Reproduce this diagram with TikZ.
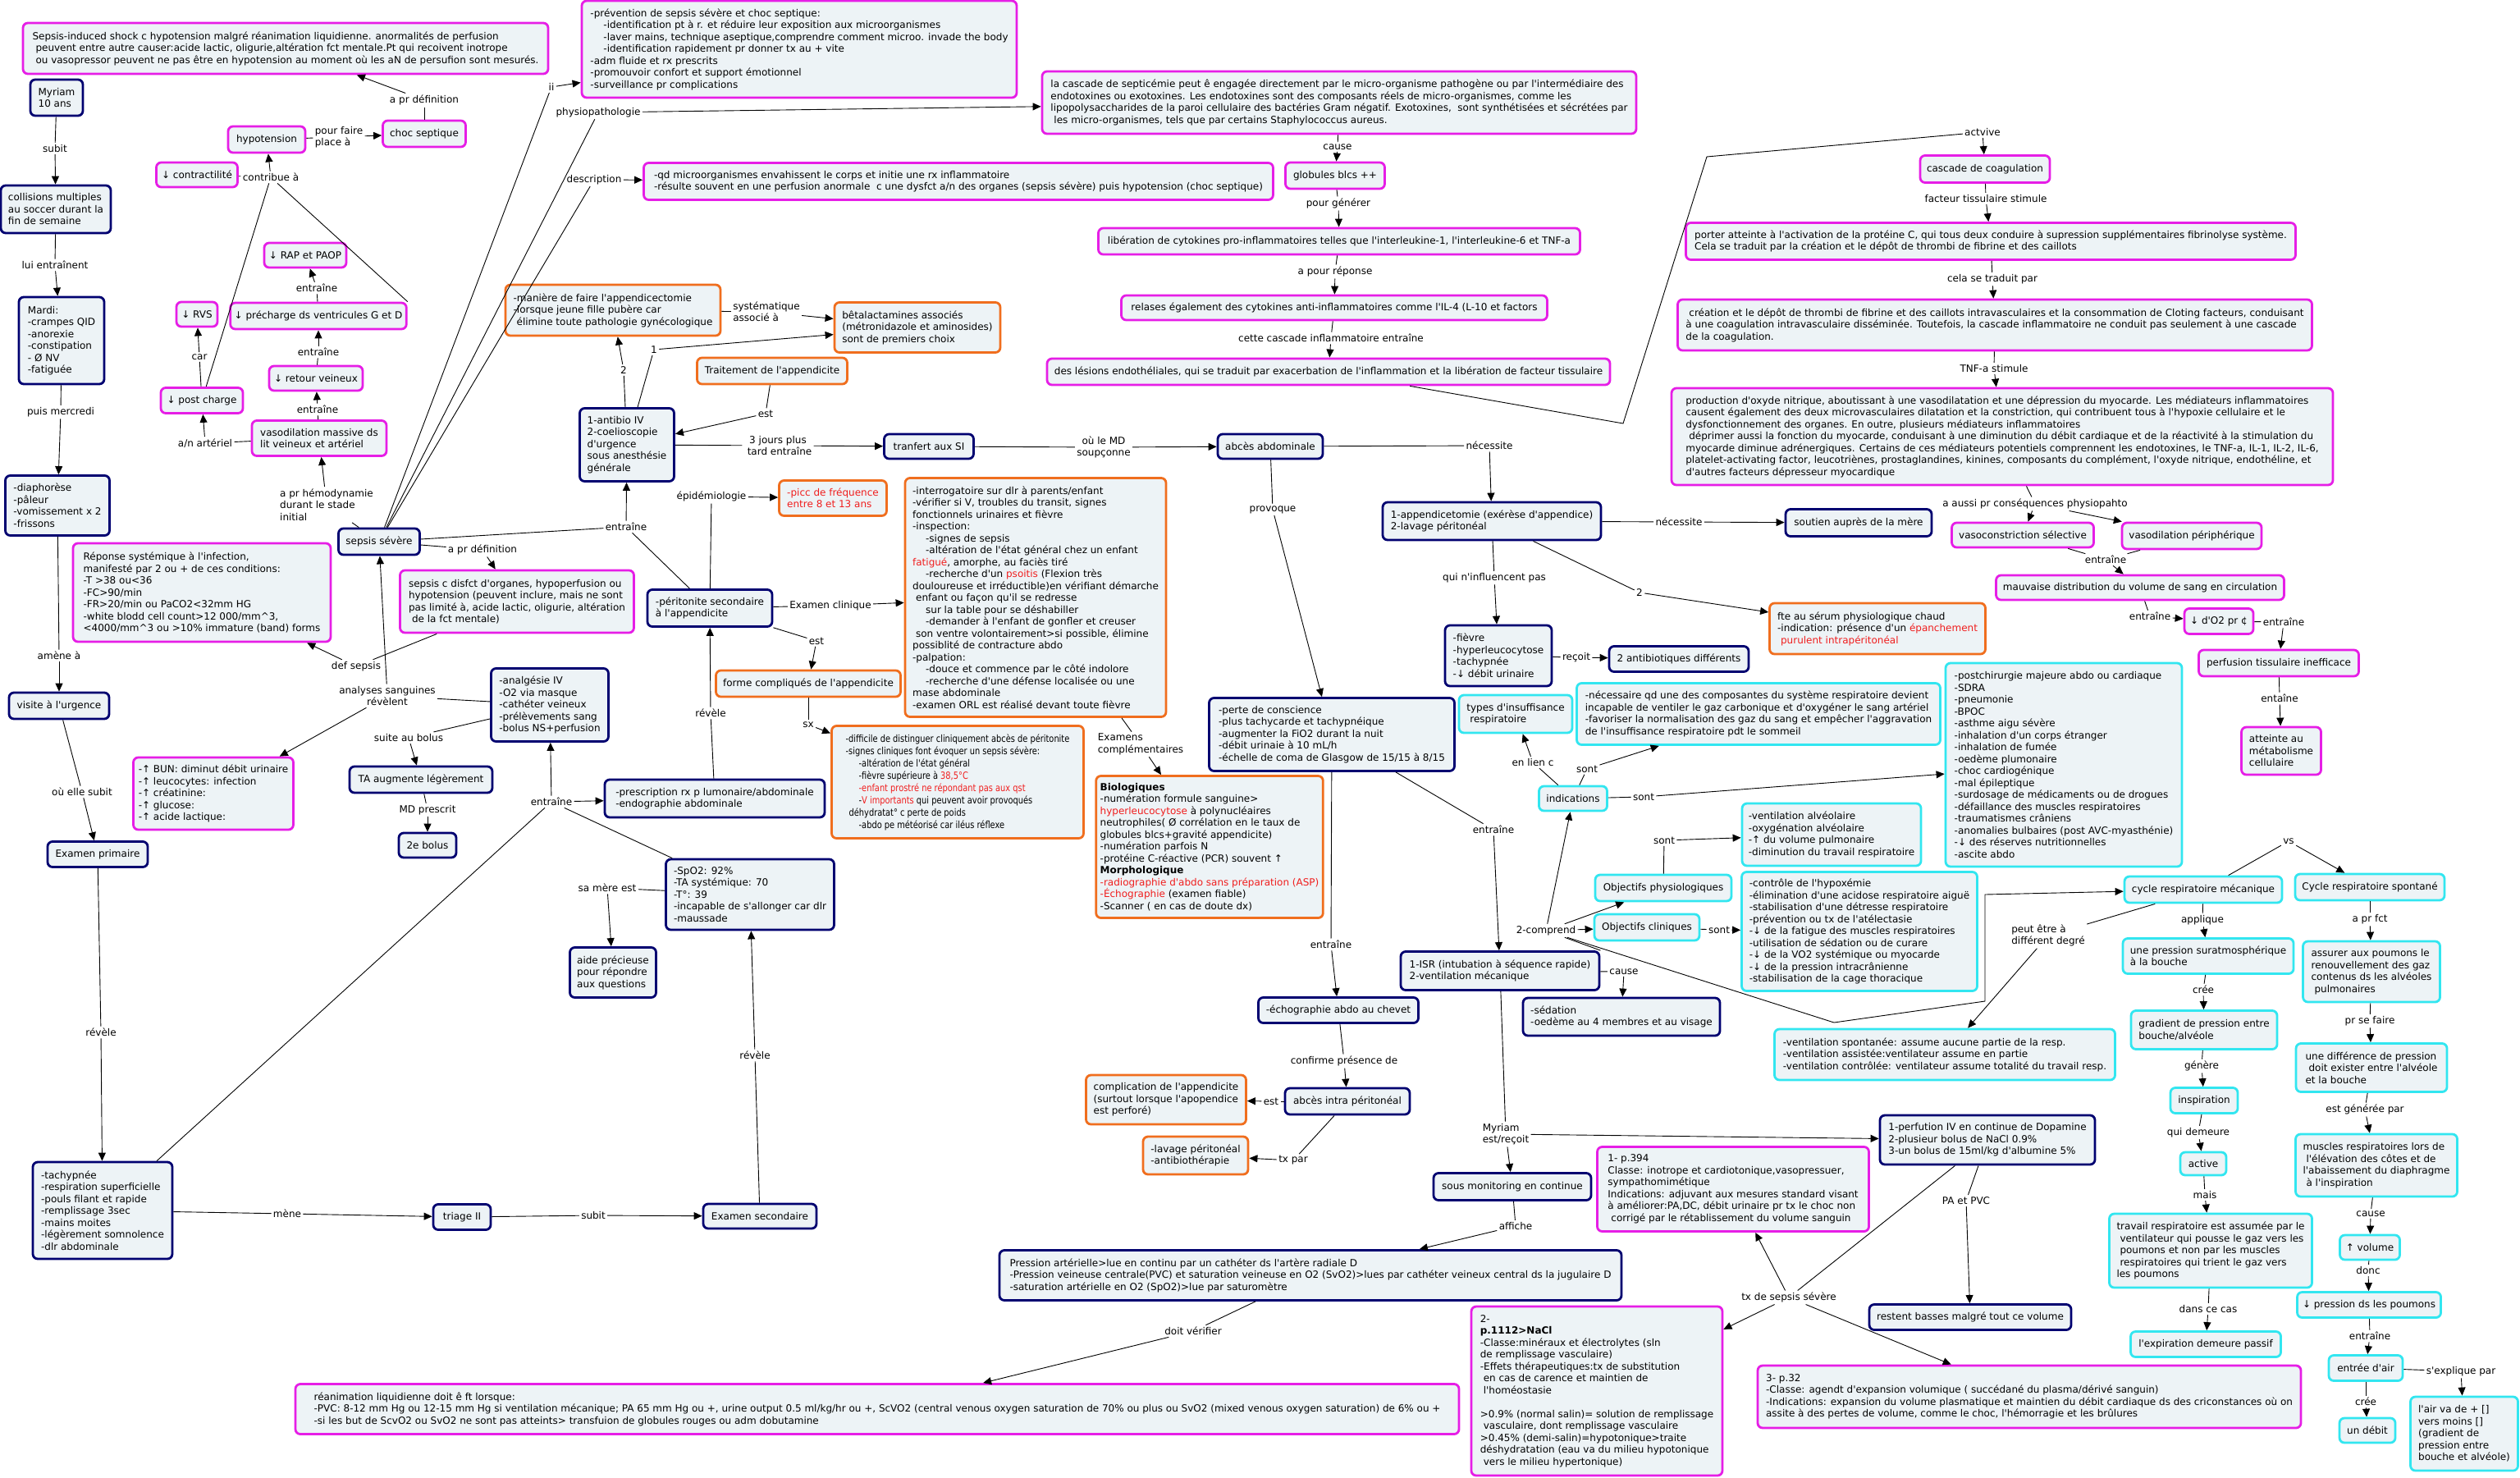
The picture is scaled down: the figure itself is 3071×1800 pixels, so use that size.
\documentclass[tikz,border=0pt]{standalone}
\usepackage{fontspec}
\setmainfont{DejaVu Sans}[Ligatures=TeXOff]
\newfontfamily\narrowfont{DejaVu Sans}[FakeStretch=0.82, Ligatures=TeXOff]
\usetikzlibrary{arrows.meta}
\definecolor{boxfill}{HTML}{EDF3F6}
\definecolor{magline}{HTML}{E61EE6}
\definecolor{navyline}{HTML}{000070}
\definecolor{orgline}{HTML}{F06E1E}
\definecolor{cyanline}{HTML}{32E6F0}
\definecolor{redtxt}{HTML}{F01E1E}
\newcommand{\indt}{\hspace*{16pt}}
\newcommand{\sps}{\hspace*{4pt}}
\newcommand{\rd}[1]{{\color{redtxt}#1}}

\begin{document}
\begin{tikzpicture}[
  x=1pt, y=-1pt, line width=0.9pt,
  font=\fontsize{12pt}{14.5pt}\selectfont,
  arr/.style={-{Triangle[length=10pt,width=9pt]}},
  box/.style={draw, rounded corners=6pt, line width=2.8pt, fill=boxfill, inner sep=5pt, align=left},
  mag/.style={box, draw=magline},
  nav/.style={box, draw=navyline},
  org/.style={box, draw=orgline},
  cyn/.style={box, draw=cyanline},
  wh/.style 2 args={minimum width=#1pt, minimum height=#2pt},
  lbl/.style={inner sep=2pt, align=center}
]
  \fill[white] (0,0) rectangle (3071,1800);
  \useasboundingbox (0,0) rectangle (3071,1800);

  % patient story, left column
  \node[nav, wh={64}{44}] (myriam) at (69,119) {Myriam\\10 ans};
  \node[nav, wh={134}{58}] (collis) at (68,255) {collisions multiples\\au soccer durant la\\fin de semaine};
  \node[nav, wh={104}{106}] (mardi) at (75,415) {Mardi:\\-crampes QID\\-anorexie\\-constipation\\- Ø NV\\-fatiguée};
  \node[nav, wh={127}{73}] (diaph) at (70,616) {-diaphorèse\\-pâleur\\-vomissement x 2\\-frissons};
  \node[nav, wh={122}{32}] (visite) at (72,860) {visite à l'urgence};
  \node[nav, wh={122}{31}] (examprim) at (119,1041) {Examen primaire};
  \node[nav, wh={170}{118}] (tachy) at (125,1475) {-tachypnée\\-respiration superficielle\\-pouls filant et rapide\\-remplissage 3sec\\-mains moites\\-légèrement somnolence\\-dlr abdominale};
  \node[nav, wh={70}{31}] (triage) at (563,1483) {triage II};
  \node[nav, wh={138}{30}] (examsec) at (926,1482) {Examen secondaire};
  \node[nav, wh={205}{86}] (spo2) at (914,1090) {-SpO2: 92\%\\-TA systémique: 70\\-T°: 39\\-incapable de s'allonger car dlr\\-maussade};
  \node[nav, wh={105}{61}] (aide) at (747,1185) {aide précieuse\\pour répondre\\aux questions};
  \node[nav, wh={143}{89}] (analg) at (670,859) {-analgésie IV\\-O2 via masque\\-cathéter veineux\\-prélèvements sang\\-bolus NS+perfusion};
  \node[nav, wh={268}{46}] (prescr) at (871,973) {-prescription rx p lumonaire/abdominale\\-endographie abdominale};
  \node[nav, wh={174}{32}] (ta) at (513,950) {TA augmente légèrement};
  \node[nav, wh={70}{30}] (bolus) at (521,1030) {2e bolus};
  \node[mag, wh={195}{88}] (bun) at (260,967) {-↑ BUN: diminut débit urinaire\\-↑ leucocytes: infection\\-↑ créatinine:\\-↑ glucose:\\-↑ acide lactique:};
  \node[mag, wh={314}{120}] (reponse) at (246,722) {Réponse systémique à l'infection,\\manifesté par 2 ou + de ces conditions:\\-T >38 ou<36\\-FC>90/min\\-FR>20/min ou PaCO2<32mm HG\\-white blodd cell count>12 000/mm\textasciicircum 3,\\<4000/mm\textasciicircum 3 ou >10\% immature (band) forms};
  \node[mag, wh={285}{76}] (sepsisc) at (630,733) {sepsis c disfct d'organes, hypoperfusion ou\\hypotension (peuvent inclure, mais ne sont\\pas limité à, acide lactic, oligurie, altération\\\sps de la fct mentale)};
  \node[nav, wh={99}{32}] (sevr) at (462,660) {sepsis sévère};

  % hemodynamics
  \node[mag, wh={640}{62}] (shock) at (348,59) {Sepsis-induced shock c hypotension malgré réanimation liquidienne. anormalités de perfusion\\\sps peuvent entre autre causer:acide lactic, oligurie,altération fct mentale.Pt qui recoivent inotrope\\\sps ou vasopressor peuvent ne pas être en hypotension au moment où les aN de persufion sont mesurés.};
  \node[mag, wh={94}{32}] (hypo) at (325,170) {hypotension};
  \node[mag, wh={101}{32}] (choc) at (517,163) {choc septique};
  \node[mag, wh={99}{30}] (contract) at (240,213) {↓ contractilité};
  \node[mag, wh={100}{30}] (rap) at (372,311) {↓ RAP et PAOP};
  \node[mag, wh={50}{30}] (rvs) at (240,383) {↓ RVS};
  \node[mag, wh={214}{32}] (prech) at (388,385) {↓ précharge ds ventricules G et D};
  \node[mag, wh={114}{30}] (retour) at (385,461) {↓ retour veineux};
  \node[mag, wh={100}{31}] (postch) at (246,488) {↓ post charge};
  \node[mag, wh={164}{43}] (vasod) at (389,534) {vasodilation massive ds\\lit veineux et artériel};

  % physiopathology
  \node[mag, wh={530}{118}] (prev) at (974,60) {-prévention de sepsis sévère et choc septique:\\\indt-identification pt à r. et réduire leur exposition aux microorganismes\\\indt-laver mains, technique aseptique,comprendre comment microo. invade the body\\\indt-identification rapidement pr donner tx au + vite\\-adm fluide et rx prescrits\\-promouvoir confort et support émotionnel\\-surveillance pr complications};
  \node[mag, wh={724}{76}] (septi) at (1632,125) {la cascade de septicémie peut ê engagée directement par le micro-organisme pathogène ou par l'intermédiaire des\\endotoxines ou exotoxines. Les endotoxines sont des composants réels de micro-organismes, comme les\\lipopolysaccharides de la paroi cellulaire des bactéries Gram négatif. Exotoxines, \ sont synthétisées et sécrétées par\\\sps les micro-organismes, tels que par certains Staphylococcus aureus.};
  \node[mag, wh={767}{45}] (qdmicro) at (1168,221) {-qd microorganismes envahissent le corps et initie une rx inflammatoire\\-résulte souvent en une perfusion anormale \ c une dysfct a/n des organes (sepsis sévère) puis hypotension (choc septique)};
  \node[mag, wh={121}{32}] (globb) at (1627,214) {globules blcs ++};
  \node[mag, wh={587}{32}] (cyto) at (1632,294) {libération de cytokines pro-inflammatoires telles que l'interleukine-1, l'interleukine-6 et TNF-a};
  \node[mag, wh={519}{30}] (relases) at (1626,375) {relases également des cytokines anti-inflammatoires comme l'IL-4 (L-10 et factors};
  \node[mag, wh={686}{32}] (lesions) at (1619,453) {des lésions endothéliales, qui se traduit par exacerbation de l'inflammation et la libération de facteur tissulaire};
  \node[mag, wh={158}{33}] (coag) at (2419,206) {cascade de coagulation};
  \node[mag, wh={743}{45}] (porter) at (2426,294) {porter atteinte à l'activation de la protéine C, qui tous deux conduire à supression supplémentaires fibrinolyse système.\\Cela se traduit par la création et le dépôt de thrombi de fibrine et des caillots};
  \node[mag, wh={773}{62}] (creation) at (2431,396) {\sps création et le dépôt de thrombi de fibrine et des caillots intravasculaires et la consommation de Cloting facteurs, conduisant\\à une coagulation intravasculaire disséminée. Toutefois, la cascade inflammatoire ne conduit pas seulement à une cascade\\de la coagulation.};
  \node[mag, wh={806}{118}] (prod) at (2440,532) {production d'oxyde nitrique, aboutissant à une vasodilatation et une dépression du myocarde. Les médiateurs inflammatoires\\causent également des deux microvasculaires dilatation et la constriction, qui contribuent tous à l'hypoxie cellulaire et le\\dysfonctionnement des organes. En outre, plusieurs médiateurs inflammatoires\\\sps déprimer aussi la fonction du myocarde, conduisant à une diminution du débit cardiaque et de la réactivité à la stimulation du\\myocarde diminue adrénergiques. Certains de ces médiateurs potentiels comprennent les endotoxines, le TNF-a, IL-1, IL-2, IL-6,\\platelet-activating factor, leucotriènes, prostaglandines, kinines, composants du complément, l'oxyde nitrique, endothéline, et\\d'autres facteurs dépresseur myocardique};
  \node[mag, wh={173}{30}] (vasoc) at (2465,652) {vasoconstriction sélective};
  \node[mag, wh={170}{32}] (vasodp) at (2671,653) {vasodilation périphérique};
  \node[mag, wh={351}{30}] (mauv) at (2608,716) {mauvaise distribution du volume de sang en circulation};
  \node[mag, wh={84}{31}] (dO2) at (2704,757) {↓ d'O2 pr ¢};
  \node[mag, wh={195}{32}] (perftis) at (2777,808) {perfusion tissulaire inefficace};
  \node[mag, wh={97}{58}] (atteinte) at (2780,915) {atteinte au\\métabolisme\\cellulaire};

  % appendicitis
  \node[org, wh={262}{62}] (maniere) at (747,378) {-manière de faire l'appendicectomie\\-lorsque jeune fille pubère car\\\sps élimine toute pathologie gynécologique};
  \node[org, wh={202}{61}] (beta) at (1118,399) {bêtalactamines associés\\(métronidazole et aminosides)\\sont de premiers choix};
  \node[org, wh={183}{32}] (trait) at (941,452) {Traitement de l'appendicite};
  \node[nav, wh={115}{89}] (antib) at (764,542) {1-antibio IV\\2-coelioscopie\\d'urgence\\sous anesthésie\\générale};
  \node[nav, wh={109}{30}] (transf) at (1132,544) {tranfert aux SI};
  \node[nav, wh={128}{30}] (abces) at (1548,544) {abcès abdominale};
  \node[nav, wh={266}{46}] (append) at (1818,635) {1-appendicetomie (exérèse d'appendice)\\2-lavage péritonéal};
  \node[nav, wh={178}{33}] (soutien) at (2265,637) {soutien auprès de la mère};
  \node[nav, wh={130}{74}] (fievre) at (1826,799) {-fièvre\\-hyperleucocytose\\-tachypnée\\-↓ débit urinaire};
  \node[nav, wh={170}{31}] (antib2) at (2046,803) {2 antibiotiques différents};
  \node[org, wh={263}{62}] (fte) at (2288,766) {fte au sérum physiologique chaud\\-indication: présence d'un \rd{épanchement}\\\sps\rd{purulent intrapéritonéal}};
  \node[org, wh={131}{43}, text=redtxt] (picc) at (1015,607) {-picc de fréquence\\entre 8 et 13 ans};
  \node[nav, wh={152}{45}] (perit) at (865,741) {-péritonite secondaire\\à l'appendicite};
  \node[org, wh={318}{291}] (interro) at (1262,728) {-interrogatoire sur dlr à parents/enfant\\-vérifier si V, troubles du transit, signes\\fonctionnels urinaires et fièvre\\-inspection:\\\indt-signes de sepsis\\\indt-altération de l'état général chez un enfant\\\rd{fatigué}, amorphe, au faciès tiré\\\indt-recherche d'un \rd{psoitis} (Flexion très\\douloureuse et irréductible)en vérifiant démarche\\\sps enfant ou façon qu'il se redresse\\\indt sur la table pour se déshabiller\\\indt-demander à l'enfant de gonfler et creuser\\\sps son ventre volontairement>si possible, élimine\\possiblité de contracture abdo\\-palpation:\\\indt-douce et commence par le côté indolore\\\indt-recherche d'une défense localisée ou une\\mase abdominale\\-examen ORL est réalisé devant toute fièvre};
  \node[org, wh={225}{32}] (forme) at (985,833) {forme compliqués de l'appendicite};
  \node[org, wh={307}{137}, font=\narrowfont\fontsize{12pt}{15pt}\selectfont] (diffic) at (1167,953) {-difficile de distinguer cliniquement abcès de péritonite\\-signes cliniques font évoquer un sepsis sévère:\\\indt-altération de l'état général\\\indt-fièvre supérieure à \rd{38,5°C}\\\indt\rd{-enfant prostré ne répondant pas aux qst}\\\indt-\rd{V importants} qui peuvent avoir provoqués\\\sps déhydratat° c perte de poids\\\indt-abdo pe météorisé car iléus réflexe};
  \node[org, wh={276}{173}] (biolo) at (1474,1032) {\textbf{Biologiques}\\-numération formule sanguine>\\\rd{hyperleucocytose} à polynucléaires\\neutrophiles( Ø corrélation en le taux de\\globules blcs+gravité appendicite)\\-numération parfois N\\-protéine C-réactive (PCR) souvent ↑\\\textbf{Morphologique}\\\rd{-radiographie d'abdo sans préparation (ASP)}\\\rd{-Échographie} (examen fiable)\\-Scanner ( en cas de doute dx)};
  \node[nav, wh={299}{89}] (perte) at (1623,895) {-perte de conscience\\-plus tachycarde et tachypnéique\\-augmenter la FiO2 durant la nuit\\-débit urinaie à 10 mL/h\\-échelle de coma de Glasgow de 15/15 à 8/15};

  % respiratory failure
  \node[cyn, wh={138}{46}] (typesins) at (1847,870) {types d'insuffisance\\\sps respiratoire};
  \node[cyn, wh={443}{75}] (necess) at (2143,870) {-nécessaire qd une des composantes du système respiratoire devient\\incapable de ventiler le gaz carbonique et d'oxygéner le sang artériel\\-favoriser la normalisation des gaz du sang et empêcher l'aggravation\\de l'insuffisance respiratoire pdt le sommeil};
  \node[cyn, wh={83}{30}] (indic) at (1917,973) {indications};
  \node[cyn, wh={288}{248}] (postchir) at (2515,932) {-postchirurgie majeure abdo ou cardiaque\\-SDRA\\-pneumonie\\-BPOC\\-asthme aigu sévère\\-inhalation d'un corps étranger\\-inhalation de fumée\\-oedème plumonaire\\-choc cardiogénique\\-mal épileptique\\-surdosage de médicaments ou de drogues\\-défaillance des muscles respiratoires\\-traumatismes crâniens\\-anomalies bulbaires (post AVC-myasthénie)\\-↓ des réserves nutritionnelles\\-ascite abdo};
  \node[cyn, wh={218}{76}] (ventalv) at (2232,1017) {-ventilation alvéolaire\\-oxygénation alvéolaire\\-↑ du volume pulmonaire\\-diminution du travail respiratoire};
  \node[cyn, wh={166}{32}] (objphys) at (2027,1082) {Objectifs physiologiques};
  \node[cyn, wh={128}{32}] (objclin) at (2007,1130) {Objectifs cliniques};
  \node[cyn, wh={287}{145}] (controle) at (2266,1135) {-contrôle de l'hypoxémie\\-élimination d'une acidose respiratoire aiguë\\-stabilisation d'une détresse respiratoire\\-prévention ou tx de l'atélectasie\\-↓ de la fatigue des muscles respiratoires\\-utilisation de sédation ou de curare\\-↓ de la VO2 systémique ou myocarde\\-↓ de la pression intracrânienne\\-stabilisation de la cage thoracique};
  \node[cyn, wh={192}{32}] (cyclemeca) at (2685,1084) {cycle respiratoire mécanique};
  \node[cyn, wh={415}{62}] (ventspont) at (2370,1285) {-ventilation spontanée: assume aucune partie de la resp.\\-ventilation assistée:ventilateur assume en partie\\-ventilation contrôlée: ventilateur assume totalité du travail resp.};
  \node[cyn, wh={182}{32}] (cyclespont) at (2888,1081) {Cycle respiratoire spontané};
  \node[cyn, wh={208}{43}] (pressur) at (2691,1165) {une pression suratmosphérique\\à la bouche};
  \node[cyn, wh={167}{74}] (assurer) at (2890,1184) {assurer aux poumons le\\renouvellement des gaz\\contenus ds les alvéoles\\\sps pulmonaires};
  \node[cyn, wh={178}{47}] (gradient) at (2686,1255) {gradient de pression entre\\bouche/alvéole};
  \node[cyn, wh={184}{59}] (difpress) at (2890,1301) {une différence de pression\\\sps doit exister entre l'alvéole\\et la bouche};
  \node[cyn, wh={82}{31}] (inspi) at (2686,1341) {inspiration};
  \node[cyn, wh={197}{76}] (muscles) at (2896,1420) {muscles respiratoires lors de\\\sps l'élévation des côtes et de\\l'abaissement du diaphragme\\\sps à l'inspiration};
  \node[cyn, wh={56}{28}] (active) at (2685,1418) {active};
  \node[cyn, wh={247}{90}] (travail) at (2694,1524) {travail respiratoire est assumée par le\\\sps ventilateur qui pousse le gaz vers les\\\sps poumons et non par les muscles\\\sps respiratoires qui trient le gaz vers\\les poumons};
  \node[cyn, wh={73}{30}] (volume) at (2888,1520) {↑ volume};
  \node[cyn, wh={175}{31}] (pressdp) at (2887,1590) {↓ pression ds les poumons};
  \node[cyn, wh={183}{31}] (expir) at (2688,1638) {l'expiration demeure passif};
  \node[cyn, wh={90}{31}] (entree) at (2883,1667) {entrée d'air};
  \node[cyn, wh={131}{90}] (airva) at (3003,1747) {l'air va de + []\\vers moins []\\(gradient de\\pression entre\\bouche et alvéole)};
  \node[cyn, wh={68}{30}] (debit) at (2885,1743) {un débit};

  % intensive care
  \node[nav, wh={242}{47}] (isr) at (1828,1183) {1-ISR (intubation à séquence rapide)\\2-ventilation mécanique};
  \node[nav, wh={240}{46}] (sedat) at (1976,1239) {-sédation\\-oedème au 4 membres et au visage};
  \node[nav, wh={195}{31}] (echo) at (1631,1231) {-échographie abdo au chevet};
  \node[nav, wh={152}{32}] (abcintra) at (1642,1342) {abcès intra péritonéal};
  \node[org, wh={195}{60}] (compl) at (1421,1340) {complication de l'appendicite\\(surtout lorsque l'apopendice\\est perforé)};
  \node[org, wh={128}{46}] (lavage) at (1457,1408) {-lavage péritonéal\\-antibiothérapie};
  \node[nav, wh={192}{33}] (monit) at (1843,1446) {sous monitoring en continue};
  \node[nav, wh={758}{61}] (pression) at (1597,1554) {Pression artérielle>lue en continu par un cathéter ds l'artère radiale D\\-Pression veineuse centrale(PVC) et saturation veineuse en O2 (SvO2)>lues par cathéter veineux central ds la jugulaire D\\-saturation artérielle en O2 (SpO2)>lue par saturomètre};
  \node[mag, wh={1418}{61}] (reanim) at (1069,1717) {réanimation liquidienne doit ê ft lorsque:\\-PVC: 8-12 mm Hg ou 12-15 mm Hg si ventilation mécanique; PA 65 mm Hg ou +, urine output 0.5 ml/kg/hr ou +, ScVO2 (central venous oxygen saturation de 70\% ou plus ou SvO2 (mixed venous oxygen saturation) de 6\% ou +\\-si les but de ScvO2 ou SvO2 ne sont pas atteints> transfuion de globules rouges ou adm dobutamine};
  \node[mag, wh={331}{103}] (p394) at (2112,1449) {1- p.394\\Classe: inotrope et cardiotonique,vasopressuer,\\sympathomimétique\\Indications: adjuvant aux mesures standard visant\\à améliorer:PA,DC, débit urinaire pr tx le choc non\\\sps corrigé par le rétablissement du volume sanguin};
  \node[nav, wh={262}{60}] (perfiv) at (2422,1389) {1-perfution IV en continue de Dopamine\\2-plusieur bolus de NaCl 0.9\%\\3-un bolus de 15ml/kg d'albumine 5\%};
  \node[nav, wh={246}{31}] (restent) at (2401,1605) {restent basses malgré tout ce volume};
  \node[mag, wh={306}{206}] (nacl) at (1946,1695) {2-\\\textbf{p.1112>NaCl}\\-Classe:minéraux et électrolytes (sln\\de remplissage vasculaire)\\-Effets thérapeutiques:tx de substitution\\\sps en cas de carence et maintien de\\\sps l'homéostasie\\~\\>0.9\% (normal salin)= solution de remplissage\\\sps vasculaire, dont remplissage vasculaire\\>0.45\% (demi-salin)=hypotonique>traite\\déshydratation (eau va du milieu hypotonique\\\sps vers le milieu hypertonique)};
  \node[mag, wh={662}{76}] (p32) at (2473,1702) {3- p.32\\-Classe: agendt d'expansion volumique ( succédané du plasma/dérivé sanguin)\\-Indications: expansion du volume plasmatique et maintien du débit cardiaque ds des criconstances où on\\assite à des pertes de volume, comme le choc, l'hémorragie et les brûlures};

  % linking phrases
  \node[lbl] (lsubit) at (67,181) {subit};
  \node[lbl] (lluient) at (67,323) {lui entraînent};
  \node[lbl] (lpuismer) at (74,502) {puis mercredi};
  \node[lbl] (lamene) at (72,799) {amène à};
  \node[lbl] (louelle) at (100,965) {où elle subit};
  \node[lbl] (lreveleA) at (123,1258) {révèle};
  \node[lbl] (lmene) at (350,1479) {mène};
  \node[lbl] (lsubitB) at (723,1481) {subit};
  \node[lbl] (lreveleB) at (920,1286) {révèle};
  \node[lbl] (lmere) at (740,1082) {sa mère est};
  \node[lbl] (lentrT) at (672,977) {entraîne};
  \node[lbl] (lanalyses) at (472,848) {analyses sanguines\\révèlent};
  \node[lbl] (lsuite) at (498,899) {suite au bolus};
  \node[lbl] (lmdpres) at (521,987) {MD prescrit};
  \node[lbl] (ldefsep) at (434,812) {def sepsis};
  \node[lbl] (laprdefB) at (588,670) {a pr définition};
  \node[lbl, align=left] (lhemo) at (398,615) {a pr hémodynamie\\durant le stade\\initial};
  \node[lbl] (lanart) at (250,540) {a/n artériel};
  \node[lbl] (lcar) at (243,435) {car};
  \node[lbl] (lentrA) at (386,351) {entraîne};
  \node[lbl] (lentrB) at (388,429) {entraîne};
  \node[lbl] (lentrC) at (387,499) {entraîne};
  \node[lbl] (lcontrib) at (330,216) {contribue à};
  \node[lbl, align=left] (lpourfaire) at (413,167) {pour faire\\place à};
  \node[lbl] (laprdefA) at (517,122) {a pr définition};
  \node[lbl] (lii) at (672,106) {ii};
  \node[lbl] (lphysio) at (729,137) {physiopathologie};
  \node[lbl] (ldescr) at (724,219) {description};
  \node[lbl, align=left] (lsyst) at (934,380) {systématique\\associé à};
  \node[lbl] (lone) at (797,426) {1};
  \node[lbl] (ltwo) at (760,451) {2};
  \node[lbl] (lestA) at (933,504) {est};
  \node[lbl] (l3jours) at (948,543) {3 jours plus\\\sps tard entraîne};
  \node[lbl] (loumd) at (1345,545) {où le MD\\soupçonne};
  \node[lbl] (lentrS) at (763,642) {entraîne};
  \node[lbl] (lepid) at (867,605) {épidémiologie};
  \node[lbl] (lexamclin) at (1012,738) {Examen clinique};
  \node[lbl] (lestB) at (995,781) {est};
  \node[lbl] (lsx) at (985,883) {sx};
  \node[lbl] (lreveleC) at (866,869) {révèle};
  \node[lbl, align=left] (lexamcomp) at (1390,907) {Examens\\complémentaires};
  \node[lbl] (lcauseA) at (1630,179) {cause};
  \node[lbl] (lpourgen) at (1631,248) {pour générer};
  \node[lbl] (lreponse) at (1627,331) {a pour réponse};
  \node[lbl] (lcascade) at (1622,412) {cette cascade inflammatoire entraîne};
  \node[lbl] (lactvive) at (2416,161) {actvive};
  \node[lbl] (lfacteur) at (2420,242) {facteur tissulaire stimule};
  \node[lbl] (lcela) at (2428,340) {cela se traduit par};
  \node[lbl] (ltnf) at (2430,449) {TNF-a stimule};
  \node[lbl] (laaussi) at (2480,614) {a aussi pr conséquences physiopahto};
  \node[lbl] (lentrD) at (2566,682) {entraîne};
  \node[lbl] (lentrE) at (2620,751) {entraîne};
  \node[lbl] (lentrF) at (2783,758) {entraîne};
  \node[lbl] (lentaine) at (2778,851) {entaîne};
  \node[lbl] (lnecessA) at (1815,543) {nécessite};
  \node[lbl] (lnecessB) at (2046,636) {nécessite};
  \node[lbl] (lprovoque) at (1551,621) {provoque};
  \node[lbl] (lquinin) at (1821,704) {qui n'influencent pas};
  \node[lbl] (lrecoit) at (1921,801) {reçoit};
  \node[lbl] (ltwoB) at (1998,722) {2};
  \node[lbl] (lentrG) at (1820,1011) {entraîne};
  \node[lbl] (lentrH) at (1622,1151) {entraîne};
  \node[lbl] (lenlien) at (1868,929) {en lien c};
  \node[lbl] (lsontA) at (1934,937) {sont};
  \node[lbl] (lsontB) at (2003,971) {sont};
  \node[lbl] (lsontC) at (2028,1024) {sont};
  \node[lbl] (lsontD) at (2095,1133) {sont};
  \node[lbl] (lcomprend) at (1884,1134) {2-comprend};
  \node[lbl, align=left] (lpeutetre) at (2496,1140) {peut être à\\différent degré};
  \node[lbl] (lvs) at (2789,1025) {vs};
  \node[lbl] (lapplique) at (2684,1121) {applique};
  \node[lbl] (laprfct) at (2888,1120) {a pr fct};
  \node[lbl] (lcreeA) at (2685,1206) {crée};
  \node[lbl] (lprse) at (2888,1244) {pr se faire};
  \node[lbl] (lgenere) at (2683,1299) {génère};
  \node[lbl] (lestgen) at (2882,1352) {est générée par};
  \node[lbl] (lquidem) at (2679,1380) {qui demeure};
  \node[lbl] (lmais) at (2687,1456) {mais};
  \node[lbl] (lcauseB) at (2889,1479) {cause};
  \node[lbl] (ldonc) at (2886,1548) {donc};
  \node[lbl] (ldansce) at (2691,1595) {dans ce cas};
  \node[lbl] (lentrI) at (2888,1628) {entraîne};
  \node[lbl] (lsexpl) at (2999,1671) {s'explique par};
  \node[lbl] (lcreeB) at (2883,1708) {crée};
  \node[lbl] (lcauseC) at (1979,1184) {cause};
  \node[lbl] (lconfirme) at (1638,1293) {confirme présence de};
  \node[lbl] (lestC) at (1549,1342) {est};
  \node[lbl] (ltxpar) at (1576,1414) {tx par};
  \node[lbl, align=left] (lmyrest) at (1835,1382) {Myriam\\est/reçoit};
  \node[lbl] (laffiche) at (1847,1494) {affiche};
  \node[lbl] (ldoitver) at (1454,1622) {doit vérifier};
  \node[lbl] (ltxsepsis) at (2180,1581) {tx de sepsis sévère};
  \node[lbl] (lpapvc) at (2396,1463) {PA et PVC};

  \coordinate (bendA) at (1978,516);
  \coordinate (bendB) at (2080,191);
  \coordinate (bendC) at (2235,1246);
  \coordinate (bendD) at (2419,1220);
  \coordinate (bendE) at (2419,1090);

  % connectors
  \draw (myriam) -- (lsubit); \draw[arr] (lsubit) -- (collis);
  \draw (collis) -- (lluient); \draw[arr] (lluient) -- (mardi);
  \draw (mardi) -- (lpuismer); \draw[arr] (lpuismer) -- (diaph);
  \draw (diaph) -- (lamene); \draw[arr] (lamene) -- (visite);
  \draw (visite) -- (louelle); \draw[arr] (louelle) -- (examprim);
  \draw (examprim) -- (lreveleA); \draw[arr] (lreveleA) -- (tachy);
  \draw (tachy) -- (lmene); \draw[arr] (lmene) -- (triage);
  \draw (triage) -- (lsubitB); \draw[arr] (lsubitB) -- (examsec);
  \draw (examsec) -- (lreveleB); \draw[arr] (lreveleB) -- (spo2);
  \draw (spo2) -- (lmere); \draw[arr] (lmere) -- (aide);
  \draw (tachy) -- (lentrT); \draw[arr] (lentrT) -- (analg);
  \draw[arr] (lentrT) -- (prescr); \draw (lentrT) -- (spo2);
  \draw (analg) -- (lanalyses); \draw[arr] (lanalyses) -- (sevr);
  \draw[arr] (lanalyses) -- (bun);
  \draw (analg) -- (lsuite); \draw[arr] (lsuite) -- (ta);
  \draw (ta) -- (lmdpres); \draw[arr] (lmdpres) -- (bolus);
  \draw (sepsisc) -- (ldefsep); \draw[arr] (ldefsep) -- (reponse);
  \draw (sevr) -- (laprdefB); \draw[arr] (laprdefB) -- (sepsisc);
  \draw (sevr) -- (lhemo); \draw[arr] (lhemo) -- (vasod);
  \draw (vasod) -- (lanart); \draw[arr] (lanart) -- (postch);
  \draw (vasod) -- (lentrC); \draw[arr] (lentrC) -- (retour);
  \draw (retour) -- (lentrB); \draw[arr] (lentrB) -- (prech);
  \draw (prech) -- (lentrA); \draw[arr] (lentrA) -- (rap);
  \draw (postch) -- (lcar); \draw[arr] (lcar) -- (rvs);
  \draw (contract) -- (lcontrib); \draw (postch) -- (lcontrib);
  \draw (prech.north east) -- (lcontrib); \draw[arr] (lcontrib) -- (hypo);
  \draw (hypo) -- (lpourfaire); \draw[arr] (lpourfaire) -- (choc);
  \draw (choc) -- (laprdefA); \draw[arr] (laprdefA) -- (shock);
  \draw (sevr) -- (lii); \draw[arr] (lii) -- (prev);
  \draw (sevr) -- (lphysio); \draw[arr] (lphysio) -- (septi);
  \draw (sevr) -- (ldescr); \draw[arr] (ldescr) -- (qdmicro);
  \draw (sevr) -- (lentrS); \draw (perit) -- (lentrS); \draw[arr] (lentrS) -- (antib);
  \draw (antib) -- (lone); \draw[arr] (lone) -- (beta);
  \draw (antib) -- (ltwo); \draw[arr] (ltwo) -- (maniere);
  \draw (maniere) -- (lsyst); \draw[arr] (lsyst) -- (beta);
  \draw (trait) -- (lestA); \draw[arr] (lestA) -- (antib);
  \draw (antib) -- (l3jours); \draw[arr] (l3jours) -- (transf);
  \draw (transf) -- (loumd); \draw[arr] (loumd) -- (abces);
  \draw (abces) -- (lnecessA); \draw[arr] (lnecessA) -- (append);
  \draw (append) -- (lnecessB); \draw[arr] (lnecessB) -- (soutien);
  \draw (append) -- (lquinin); \draw[arr] (lquinin) -- (fievre);
  \draw (append) -- (ltwoB); \draw[arr] (ltwoB) -- (fte);
  \draw (fievre) -- (lrecoit); \draw[arr] (lrecoit) -- (antib2);
  \draw (abces) -- (lprovoque); \draw[arr] (lprovoque) -- (perte);
  \draw (perit) -- (lepid); \draw[arr] (lepid) -- (picc);
  \draw (perit) -- (lexamclin); \draw[arr] (lexamclin) -- (interro);
  \draw (perit) -- (lestB); \draw[arr] (lestB) -- (forme);
  \draw (forme) -- (lsx); \draw[arr] (lsx) -- (diffic);
  \draw (prescr) -- (lreveleC); \draw[arr] (lreveleC) -- (perit);
  \draw (interro) -- (lexamcomp); \draw[arr] (lexamcomp) -- (biolo);
  \draw (septi) -- (lcauseA); \draw[arr] (lcauseA) -- (globb);
  \draw (globb) -- (lpourgen); \draw[arr] (lpourgen) -- (cyto);
  \draw (cyto) -- (lreponse); \draw[arr] (lreponse) -- (relases);
  \draw (relases) -- (lcascade); \draw[arr] (lcascade) -- (lesions);
  \draw (lesions) -- (bendA) -- (bendB) -- (lactvive); \draw[arr] (lactvive) -- (coag);
  \draw (coag) -- (lfacteur); \draw[arr] (lfacteur) -- (porter);
  \draw (porter) -- (lcela); \draw[arr] (lcela) -- (creation);
  \draw (creation) -- (ltnf); \draw[arr] (ltnf) -- (prod);
  \draw (prod) -- (laaussi); \draw[arr] (laaussi) -- (vasoc); \draw[arr] (laaussi) -- (vasodp);
  \draw (vasoc) -- (lentrD); \draw (vasodp) -- (lentrD); \draw[arr] (lentrD) -- (mauv);
  \draw (mauv) -- (lentrE); \draw[arr] (lentrE) -- (dO2);
  \draw (dO2) -- (lentrF); \draw[arr] (lentrF) -- (perftis);
  \draw (perftis) -- (lentaine); \draw[arr] (lentaine) -- (atteinte);
  \draw (perte) -- (lentrG); \draw[arr] (lentrG) -- (isr);
  \draw (perte) -- (lentrH); \draw[arr] (lentrH) -- (echo);
  \draw (indic) -- (lenlien); \draw[arr] (lenlien) -- (typesins);
  \draw (indic) -- (lsontA); \draw[arr] (lsontA) -- (necess);
  \draw (indic) -- (lsontB); \draw[arr] (lsontB) -- (postchir);
  \draw (objphys) -- (lsontC); \draw[arr] (lsontC) -- (ventalv);
  \draw (objclin) -- (lsontD); \draw[arr] (lsontD) -- (controle);
  \draw (isr.north east) -- (lcomprend); \draw[arr] (lcomprend) -- (indic);
  \draw[arr] (lcomprend) -- (objphys); \draw[arr] (lcomprend) -- (objclin);
  \draw[arr] (lcomprend) -- (bendC) -- (bendD) -- (bendE) -- (cyclemeca);
  \draw (cyclemeca) -- (lpeutetre); \draw[arr] (lpeutetre) -- (ventspont);
  \draw (cyclemeca) -- (lvs); \draw[arr] (lvs) -- (cyclespont);
  \draw (cyclemeca) -- (lapplique); \draw[arr] (lapplique) -- (pressur);
  \draw (pressur) -- (lcreeA); \draw[arr] (lcreeA) -- (gradient);
  \draw (gradient) -- (lgenere); \draw[arr] (lgenere) -- (inspi);
  \draw (inspi) -- (lquidem); \draw[arr] (lquidem) -- (active);
  \draw (active) -- (lmais); \draw[arr] (lmais) -- (travail);
  \draw (travail) -- (ldansce); \draw[arr] (ldansce) -- (expir);
  \draw (cyclespont) -- (laprfct); \draw[arr] (laprfct) -- (assurer);
  \draw (assurer) -- (lprse); \draw[arr] (lprse) -- (difpress);
  \draw (difpress) -- (lestgen); \draw[arr] (lestgen) -- (muscles);
  \draw (muscles) -- (lcauseB); \draw[arr] (lcauseB) -- (volume);
  \draw (volume) -- (ldonc); \draw[arr] (ldonc) -- (pressdp);
  \draw (pressdp) -- (lentrI); \draw[arr] (lentrI) -- (entree);
  \draw (entree) -- (lsexpl); \draw[arr] (lsexpl) -- (airva);
  \draw (entree) -- (lcreeB); \draw[arr] (lcreeB) -- (debit);
  \draw (isr) -- (lcauseC); \draw[arr] (lcauseC) -- (sedat);
  \draw (isr) -- (lmyrest); \draw[arr] (lmyrest) -- (monit); \draw[arr] (lmyrest) -- (perfiv);
  \draw (echo) -- (lconfirme); \draw[arr] (lconfirme) -- (abcintra);
  \draw (abcintra) -- (lestC); \draw[arr] (lestC) -- (compl);
  \draw (abcintra) -- (ltxpar); \draw[arr] (ltxpar) -- (lavage);
  \draw (monit) -- (laffiche); \draw[arr] (laffiche) -- (pression);
  \draw (pression) -- (ldoitver); \draw[arr] (ldoitver) -- (reanim);
  \draw (perfiv) -- (ltxsepsis); \draw[arr] (ltxsepsis) -- (p394);
  \draw[arr] (ltxsepsis) -- (nacl); \draw[arr] (ltxsepsis) -- (p32);
  \draw (perfiv) -- (lpapvc); \draw[arr] (lpapvc) -- (restent);
\end{tikzpicture}
\end{document}
